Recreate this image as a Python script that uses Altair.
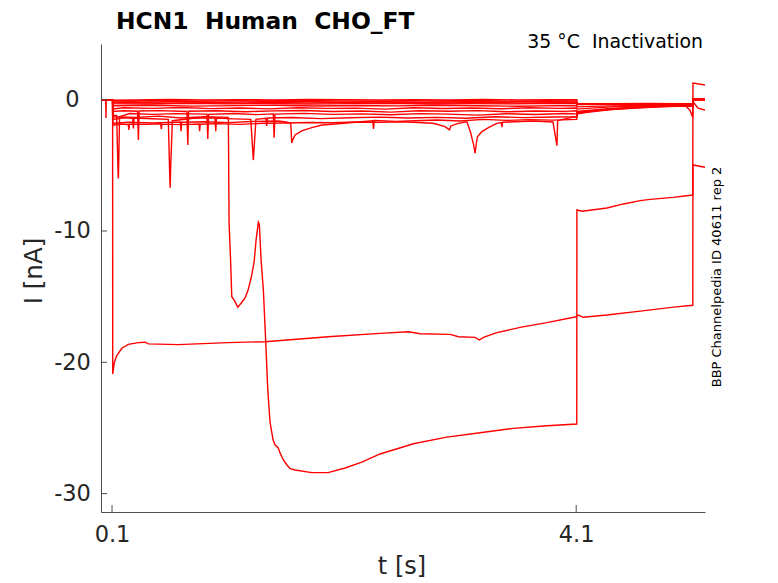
import altair as alt
import pandas as pd

# ---------------- data ----------------
T_DOMAIN = [0.005, 5.21]
I_DOMAIN = [-31.4, 4.24]
X_TICKS = [0.1, 4.1]
Y_TICKS = [0, -10, -20, -30]

TITLE = ["HCN1\u00a0\u00a0Human\u00a0\u00a0CHO_FT"]
SUBTITLE = ["35 °C\u00a0\u00a0Inactivation"]
SIDE = ["BBP Channelpedia ID 40611 rep 2"]
XLABEL = ["t [s]"]
YLABEL = ["I [nA]"]

T1 = [(0, 0), (0.046, 0), (0.048, -1.4), (0.05, 0), (0.105, 0), (0.106, -0.04), (0.3, -0.02), (0.6, 0.01),
      (0.9, -0.03), (1.2, 0.0), (1.5, -0.02), (1.8, 0.01), (2.1, -0.01), (2.4, -0.03), (2.7, 0.0), (3.0, -0.02),
      (3.3, 0.01), (3.6, -0.02), (3.9, 0.0), (4.105, -0.01), (4.106, -0.28), (4.4, -0.3), (4.7, -0.29),
      (5.0, -0.31), (5.105, -0.3), (5.106, 0.06), (5.21, 0.03)]
T1B = [(0, 0), (0.105, 0), (0.106, -0.08), (0.25, -0.1), (0.55, -0.06), (0.85, -0.11), (1.15, -0.07),
       (1.45, -0.1), (1.75, -0.05), (2.05, -0.09), (2.35, -0.12), (2.65, -0.07), (2.95, -0.1), (3.25, -0.06),
       (3.55, -0.11), (3.85, -0.08), (4.105, -0.09), (4.106, -0.3), (4.6, -0.32), (5.105, -0.31),
       (5.106, 0.04), (5.21, 0.02)]
T2 = [(0, 0), (0.105, 0), (0.106, -0.16), (0.35, -0.19), (0.7, -0.14), (1.05, -0.2), (1.4, -0.16), (1.75, -0.13),
      (2.1, -0.19), (2.45, -0.16), (2.8, -0.2), (3.15, -0.15), (3.5, -0.18), (3.85, -0.16), (4.105, -0.18),
      (4.106, -0.33), (4.5, -0.34), (5.105, -0.33), (5.106, 0.02), (5.21, 0.0)]
T2B = [(0, 0), (0.105, 0), (0.106, -0.24), (0.3, -0.22), (0.6, -0.27), (0.9, -0.23), (1.2, -0.26),
       (1.5, -0.21), (1.8, -0.25), (2.1, -0.22), (2.4, -0.27), (2.7, -0.23), (3.0, -0.25), (3.3, -0.21),
       (3.6, -0.26), (3.9, -0.23), (4.105, -0.24), (4.106, -0.35), (4.6, -0.35), (5.105, -0.34),
       (5.106, 0.01), (5.21, 0.01)]
T3 = [(0, 0), (0.105, 0), (0.106, -0.3), (0.4, -0.33), (0.75, -0.28), (1.1, -0.32), (1.45, -0.29), (1.8, -0.34),
      (2.15, -0.3), (2.5, -0.27), (2.85, -0.33), (3.2, -0.3), (3.55, -0.32), (3.9, -0.28), (4.105, -0.3),
      (4.106, -0.38), (4.5, -0.36), (5.105, -0.35), (5.106, -0.02), (5.21, 0.01)]
T4 = [(0, 0), (0.105, 0), (0.106, -0.46), (0.45, -0.43), (0.8, -0.49), (1.15, -0.45), (1.5, -0.42), (1.85, -0.48),
      (2.2, -0.44), (2.55, -0.47), (2.9, -0.43), (3.25, -0.46), (3.6, -0.5), (3.95, -0.45), (4.105, -0.46),
      (4.106, -0.55), (4.4, -0.47), (4.8, -0.42), (5.105, -0.4), (5.106, -0.15), (5.15, -0.65), (5.21, -0.79)]
T5 = [(0, 0), (0.105, 0), (0.106, -0.7), (0.2, -0.62), (0.45, -0.66), (0.7, -0.6), (0.95, -0.68), (1.2, -0.63),
      (1.45, -0.7), (1.7, -0.61), (1.95, -0.66), (2.2, -0.64), (2.45, -0.72), (2.7, -0.62), (2.95, -0.67),
      (3.2, -0.63), (3.45, -0.69), (3.7, -0.62), (3.95, -0.66), (4.105, -0.64), (4.106, -0.72), (4.4, -0.55),
      (4.8, -0.45), (5.105, -0.42), (5.106, 0.03), (5.21, 0.02)]
T6 = [(0, 0), (0.105, 0), (0.106, -0.9), (0.2, -0.84), (0.32, -0.88), (0.327, -3.07), (0.334, -0.86),
      (0.5, -0.83), (0.745, -0.9), (0.753, -3.45), (0.76, -0.88), (1.0, -0.84), (1.25, -0.92), (1.5, -0.85),
      (1.75, -0.82), (2.0, -0.9), (2.25, -0.86), (2.5, -0.95), (2.75, -0.84), (3.0, -0.88), (3.25, -0.83),
      (3.5, -0.92), (3.75, -0.86), (4.0, -0.89), (4.105, -0.85), (4.106, -0.9), (4.4, -0.66), (4.8, -0.5),
      (5.105, -0.45), (5.106, 0.02), (5.21, 0.01)]
T7 = [(0, 0), (0.105, 0), (0.106, -1.2), (0.14, -1.2), (0.148, -4.2), (0.152, -5.6), (0.155, -6.0),
      (0.158, -4.7), (0.165, -1.3), (0.25, -1.05), (0.45, -1.12), (0.65, -1.06), (0.918, -1.1), (0.925, -3.0),
      (0.932, -1.12), (1.15, -1.05), (1.35, -1.14), (1.49, -1.08), (1.497, -2.9), (1.504, -1.1), (1.75, -1.04),
      (2.0, -1.12), (2.25, -1.08), (2.5, -1.15), (2.75, -1.06), (3.0, -1.1), (3.25, -1.18), (3.5, -1.07),
      (3.75, -1.13), (4.0, -1.05), (4.105, -1.08), (4.106, -0.95), (4.4, -0.7), (4.8, -0.5), (5.04, -0.45),
      (5.08, -0.8), (5.105, -1.35), (5.106, 0.0), (5.21, 0.02)]
T8 = [(0, 0), (0.105, 0), (0.106, -1.5), (0.2, -1.38), (0.278, -1.42), (0.284, -2.2), (0.29, -1.4),
      (0.45, -1.45), (0.585, -1.5), (0.598, -6.0), (0.601, -6.7), (0.606, -5.0), (0.62, -1.6), (0.8, -1.42),
      (0.987, -1.38), (0.994, -2.4), (1.0, -1.4), (1.15, -1.46), (1.296, -1.5), (1.312, -3.8), (1.318, -4.6),
      (1.325, -3.6), (1.34, -1.5), (1.427, -1.42), (1.433, -2.0), (1.44, -1.4), (1.65, -1.36), (1.9, -1.44),
      (2.15, -1.38), (2.4, -1.33), (2.65, -1.4), (2.9, -1.35), (3.15, -1.42), (3.4, -1.3), (3.65, -1.37),
      (3.9, -1.32), (4.105, -1.3), (4.106, -1.05), (4.4, -0.75), (4.8, -0.52), (5.105, -0.46), (5.106, 0.03),
      (5.21, 0.01)]
T9 = [(0, 0), (0.105, 0), (0.106, -1.8), (0.25, -1.72), (0.45, -1.78), (0.689, -1.7), (0.695, -2.4),
      (0.701, -1.72), (0.9, -1.68), (1.1, -1.75), (1.3, -1.66), (1.53, -1.62), (1.6, -1.7), (1.64, -1.8),
      (1.649, -3.3), (1.66, -3.0), (1.678, -2.69), (1.735, -2.38), (1.822, -2.13), (1.908, -1.93),
      (2.022, -1.85), (2.195, -1.72), (2.347, -1.6), (2.353, -2.23), (2.36, -1.58), (2.55, -1.65),
      (2.712, -1.6), (2.9, -1.55), (3.1, -1.62), (3.3, -1.5), (3.5, -1.58), (3.7, -1.52), (3.9, -1.56),
      (4.105, -1.5), (4.106, -1.0), (4.4, -0.72), (4.8, -0.5), (5.105, -0.46), (5.106, 0.02), (5.21, 0.0)]
T10 = [(0, 0), (0.105, 0), (0.106, -1.95), (0.18, -1.85), (0.24, -1.9), (0.245, -2.3), (0.25, -1.86),
       (0.4, -1.88), (0.52, -1.84), (0.525, -2.25), (0.53, -1.86), (0.7, -1.9), (0.85, -1.85), (0.855, -2.4),
       (0.86, -1.87), (1.0, -1.82), (1.2, -1.88), (1.4, -1.8), (1.6, -1.78), (1.8, -1.74), (2.0, -1.76),
       (2.2, -1.7), (2.4, -1.72), (2.6, -1.68), (2.867, -1.8), (2.97, -2.05), (3.008, -2.3), (3.02, -2.0),
       (3.083, -1.8), (3.158, -1.68), (3.19, -2.5), (3.215, -3.4), (3.229, -4.08), (3.24, -3.3),
       (3.249, -2.82), (3.287, -2.43), (3.344, -2.13), (3.416, -1.8), (3.455, -1.75), (3.46, -2.1),
       (3.465, -1.72), (3.732, -1.62), (3.9, -1.7), (3.934, -3.5), (3.94, -1.6), (4.02, -1.42),
       (4.105, -1.3), (4.106, -1.1), (4.2, -0.92), (4.3, -0.8), (4.6, -0.64), (4.9, -0.52), (5.105, -0.47),
       (5.106, 0.0), (5.21, 0.02)]
TA = [(0, 0), (0.105, 0), (0.106, -20.9), (0.12, -20.0), (0.14, -19.5), (0.184, -18.93), (0.24, -18.63),
      (0.327, -18.5), (0.385, -18.47), (0.413, -18.6), (0.67, -18.65), (1.1, -18.5), (1.419, -18.43),
      (1.962, -18.05), (2.41, -17.8), (2.654, -17.67), (2.755, -17.82), (3.014, -17.87), (3.085, -18.05),
      (3.229, -18.1), (3.266, -18.3), (3.301, -18.1), (3.416, -17.74), (3.617, -17.34), (3.847, -16.98),
      (4.1, -16.53), (4.12, -16.4), (4.16, -16.57), (4.365, -16.4), (4.652, -16.1), (4.94, -15.8),
      (5.105, -15.66), (5.106, -4.97), (5.21, -5.15)]
TB = [(0, 0), (0.105, 0), (0.106, -1.3), (0.3, -1.35), (0.5, -1.25), (0.7, -1.4), (0.9, -1.3), (1.1, -1.35),
      (1.1026, -1.4), (1.1086, -9.4), (1.1216, -12.2), (1.1319, -15.0), (1.1517, -15.25), (1.1836, -15.8),
      (1.2121, -15.5), (1.2466, -15.1), (1.2724, -14.5), (1.2983, -13.6), (1.3241, -12.4), (1.3414, -10.7),
      (1.3612, -9.34), (1.3698, -9.5), (1.3845, -12.2), (1.4043, -14.5), (1.425, -18.5), (1.4422, -22.1),
      (1.4621, -24.6), (1.4879, -25.9), (1.5052, -26.3), (1.531, -26.5), (1.5483, -26.9), (1.5741, -27.4),
      (1.606, -27.8), (1.6345, -28.1), (1.6776, -28.2), (1.8216, -28.4), (1.962, -28.4), (2.1086, -28.05),
      (2.2526, -27.6), (2.41, -26.98), (2.697, -26.2), (2.985, -25.7), (3.272, -25.36), (3.559, -25.03),
      (3.847, -24.83), (4.105, -24.7), (4.106, -8.4), (4.152, -8.5), (4.365, -8.25), (4.508, -7.94),
      (4.652, -7.69), (4.738, -7.59), (4.936, -7.44), (5.105, -7.26), (5.106, 1.27), (5.21, 1.12)]

TRACES = {"T1": T1, "T1B": T1B, "T2": T2, "T2B": T2B, "T3": T3, "T4": T4, "T5": T5, "T6": T6,
          "T7": T7, "T8": T8, "T9": T9, "T10": T10, "A": TA, "B": TB}

rows = []
for name, pts in TRACES.items():
    for k, (t, i) in enumerate(pts):
        rows.append({"trace": name, "k": k, "t": t, "i": i})
df = pd.DataFrame(rows)

# ---------------- chart ----------------
W, H = 604, 468
FONT = "DejaVu Sans"
AX = "#4d4d4d"
TXT = "#262626"
RED = "#ff0000"

xs = alt.Scale(domain=T_DOMAIN, nice=False, zero=False)
ys = alt.Scale(domain=I_DOMAIN, nice=False, zero=False)

X_AXIS = alt.Axis(
    values=X_TICKS, format=".1f", title=None, grid=False, ticks=False,
    labelFontSize=22.5, labelFont=FONT, labelColor=TXT, labelPadding=11,
    labelFlush=False, domainColor=AX, domainWidth=1)
Y_AXIS = alt.Axis(
    values=Y_TICKS, title=None, grid=False, ticks=False,
    labelExpr="datum.value < 0 ? '-' + toString(-datum.value) : toString(datum.value)",
    labelFontSize=22.5, labelFont=FONT, labelColor=TXT, labelPadding=29,
    labelAlign="center", labelBaseline="middle", labelFlush=False,
    domainColor=AX, domainWidth=1)

lines = alt.Chart(df).mark_line(color=RED, strokeWidth=1.4, clip=True).encode(
    x=alt.X("t:Q", scale=xs, axis=X_AXIS),
    y=alt.Y("i:Q", scale=ys, axis=Y_AXIS),
    detail="trace:N",
    order="k:Q",
)

ytk = alt.Chart(pd.DataFrame({"v": Y_TICKS})).mark_rule(color=AX, strokeWidth=1).encode(
    y=alt.Y("v:Q", scale=ys, axis=Y_AXIS), x=alt.value(0), x2=alt.value(6))
xtk = alt.Chart(pd.DataFrame({"v": X_TICKS})).mark_rule(color=AX, strokeWidth=1).encode(
    x=alt.X("v:Q", scale=xs, axis=X_AXIS), y=alt.value(H), y2=alt.value(H - 7))


def label(txt, x, y, size, **kw):
    return alt.Chart(pd.DataFrame({"s": txt})).mark_text(
        font=FONT, fontSize=size, color=kw.pop("color", "black"), **kw
    ).encode(text="s:N", x=alt.value(x), y=alt.value(y))


title = label(TITLE, 15, -15.5, 23.4, fontWeight="bold", align="left", baseline="alphabetic")
sub = label(SUBTITLE, 602, 4, 18.9, align="right", baseline="alphabetic")
side = label(SIDE, 616, 233, 13, angle=270, align="center", baseline="middle")
xlab = label(XLABEL, 301, 530, 24, align="center", baseline="alphabetic", color=TXT)
ylab = label(YLABEL, -66, 227, 24.5, angle=270, align="center", baseline="middle", color=TXT)

chart = alt.layer(lines, ytk, xtk, title, sub, side, xlab, ylab).properties(
    width=W, height=H,
    padding={"left": 93, "top": 36, "right": 60, "bottom": 68},
    autosize=alt.AutoSizeParams(type="none"),
    background="white",
).configure_view(stroke=None)

chart.save("out.html", embed_options={"renderer": "svg", "actions": False})
